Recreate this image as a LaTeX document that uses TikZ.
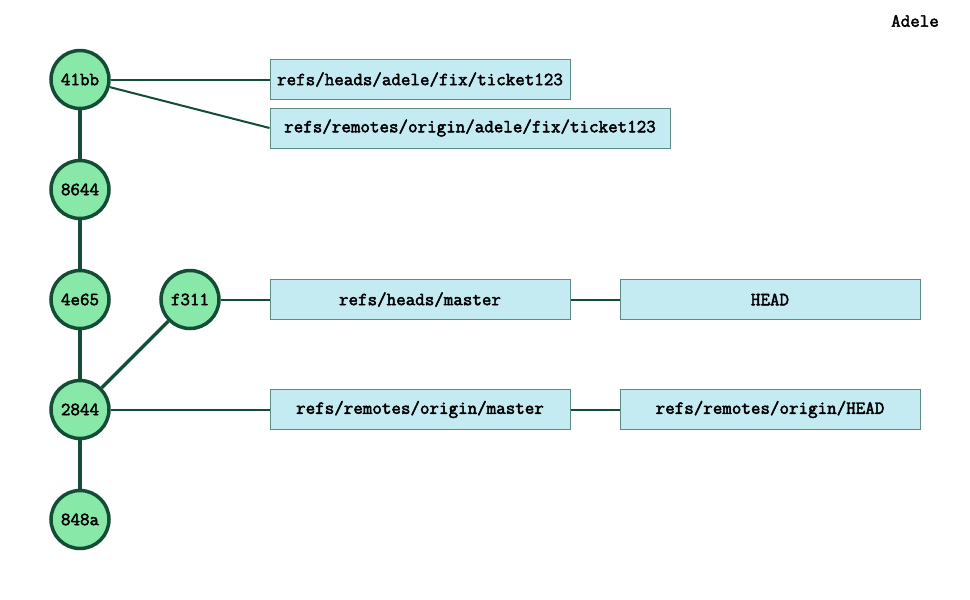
\documentclass[tikz,border=0pt]{standalone}
\usepackage{fontspec}
\newfontfamily\courbold[FakeBold=2.5]{Latin Modern Mono}
\begin{document}
\begin{tikzpicture}[x=1pt,y=-1pt,
  lbl/.style={font=\courbold\fontsize{18.5}{20}\selectfont},
  commit/.style={circle,draw=dkgreen,line width=3.5pt,fill=cgreen,minimum size=58pt,inner sep=0pt,lbl},
  refbox/.style={rectangle,draw=boxline,line width=1pt,fill=boxfill,minimum width=300pt,minimum height=40pt,inner sep=0pt,lbl},
  parent/.style={draw=dkgreen,line width=3.5pt},
  link/.style={draw=dkgreen,line width=2pt}]
\definecolor{dkgreen}{HTML}{144D36}
\definecolor{cgreen}{HTML}{88E8A8}
\definecolor{boxfill}{HTML}{C4EAF2}
\definecolor{boxline}{HTML}{5C8C82}
\useasboundingbox (0,0) rectangle (970,600);
\fill[white] (0,0) rectangle (970,600);
\node[lbl] (user) at (915,21) {Adele};
\node[commit] (c41bb) at (80,79.5) {41bb};
\node[commit] (c8644) at (80,189.5) {8644};
\node[commit] (c4e65) at (80,299.5) {4e65};
\node[commit] (c2844) at (80,409.5) {2844};
\node[commit] (c848a) at (80,519.5) {848a};
\node[commit] (cf311) at (190,299.5) {f311};
\node[refbox] (rfix) at (420,79.5) {refs/heads/adele/fix/ticket123};
\node[refbox,minimum width=400pt] (rofix) at (470,128) {refs/remotes/origin/adele/fix/ticket123};
\node[refbox] (rmaster) at (420,299.5) {refs/heads/master};
\node[refbox] (rhead) at (770,299.5) {HEAD};
\node[refbox] (romaster) at (420,409.5) {refs/remotes/origin/master};
\node[refbox] (rohead) at (770,409.5) {refs/remotes/origin/HEAD};
\draw[parent] (c41bb) -- (c8644);
\draw[parent] (c8644) -- (c4e65);
\draw[parent] (c4e65) -- (c2844);
\draw[parent] (c2844) -- (c848a);
\draw[parent] (cf311) -- (c2844);
\draw[link] (c41bb.east) -- (rfix.west);
\draw[link] (c41bb) -- (rofix.west);
\draw[link] (cf311.east) -- (rmaster.west);
\draw[link] (rmaster) -- (rhead);
\draw[link] (c2844.east) -- (romaster.west);
\draw[link] (romaster) -- (rohead);
\end{tikzpicture}
\end{document}
